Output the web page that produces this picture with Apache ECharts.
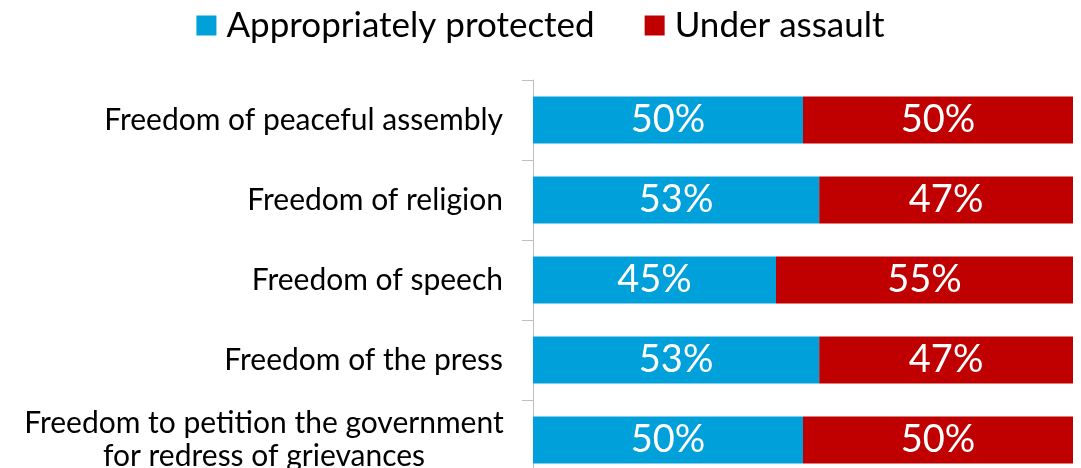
<!DOCTYPE html>
<html><head><meta charset="utf-8">
<script src="https://cdn.jsdelivr.net/npm/echarts@6/dist/echarts.min.js"></script>
<style>html,body{margin:0;padding:0;background:#fff;overflow:hidden}#c{width:1081px;height:480px}</style>
</head><body><div id="c"></div>
<script>
const categories = [
  "Freedom of peaceful assembly",
  "Freedom of religion",
  "Freedom of speech",
  "Freedom of the press",
  "Freedom to petition the government\nfor redress of grievances"
];
const seriesNames = ["Appropriately protected", "Under assault"];
const protectedVals = [50, 53, 45, 53, 50];
const assaultVals = [50, 47, 55, 47, 50];
const colors = ["#00A0DB", "#C00000"];
const FONT = "Lato";

const chart = echarts.init(document.getElementById('c'), null, {renderer: 'canvas'});
chart.setOption({
  animation: false,
  textStyle: {fontFamily: FONT},
  legend: {
    top: 3, left: 'center',
    itemWidth: 20, itemHeight: 20, itemGap: 50,
    icon: 'rect',
    textStyle: {fontSize: 35, color: '#000', fontFamily: FONT, padding: [0, 0, 0, 5]},
    data: seriesNames
  },
  grid: {left: 533, right: 8, top: 80, bottom: 0, containLabel: false},
  xAxis: {type: 'value', min: 0, max: 100, show: false},
  yAxis: {
    type: 'category', inverse: true, data: categories,
    axisLine: {show: true, lineStyle: {color: '#BFBFBF', width: 1}},
    axisTick: {show: true, length: 11, lineStyle: {color: '#BFBFBF'}},
    axisLabel: {
      margin: 30, fontSize: 30, color: '#000', fontFamily: FONT, lineHeight: 33,
      formatter: function (v) {
        if (v.indexOf('\n') >= 0) {
          return v.split('\n').map(s => '{c|' + s + '}').join('\n');
        }
        return v;
      },
      rich: {c: {width: 478, align: 'center', fontSize: 30, lineHeight: 33, fontFamily: FONT, color: '#000'}}
    }
  },
  series: [
    {name: seriesNames[0], type: 'bar', stack: 'a', data: protectedVals, barWidth: 47,
     itemStyle: {color: colors[0]},
     label: {show: true, position: 'inside', color: '#fff', fontSize: 38, fontFamily: FONT, formatter: '{c}%'}},
    {name: seriesNames[1], type: 'bar', stack: 'a', data: assaultVals, barWidth: 47,
     itemStyle: {color: colors[1]},
     label: {show: true, position: 'inside', color: '#fff', fontSize: 38, fontFamily: FONT, formatter: '{c}%'}}
  ]
});
</script></body></html>
